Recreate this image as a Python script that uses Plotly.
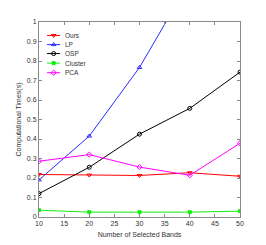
import plotly.graph_objects as go

bands = [10, 20, 30, 40, 50]
ours = [0.218, 0.215, 0.213, 0.227, 0.209]
lp = [0.19, 0.415, 0.767, 1.21, 1.65]
osp = [0.12, 0.255, 0.425, 0.557, 0.743]
cluster = [0.035, 0.025, 0.025, 0.025, 0.03]
pca = [0.286, 0.32, 0.256, 0.214, 0.378]

names = ["Ours", "LP", "OSP", "Cluster", "PCA"]
values = [ours, lp, osp, cluster, pca]
colors = ["#ff0000", "#2a2aff", "#000000", "#11ee11", "#ff00ff"]
symbols = ["triangle-down-open", "triangle-up-open", "circle-open", "square", "diamond-open"]
sizes = [4, 4, 4, 3, 4]

# legend layout (fractions of the plot area)
leg_rows = [0.931, 0.884, 0.838, 0.789, 0.740]
leg_x0, leg_xm, leg_x1, leg_xt = 0.040, 0.073, 0.105, 0.118

TXT = "#333333"
FONT = "Liberation Sans"

fig = go.Figure()
for name, vals, color, sym, sz in zip(names, values, colors, symbols, sizes):
    fig.add_trace(go.Scatter(
        x=bands, y=vals, name=name, mode="lines+markers",
        line=dict(color=color, width=1),
        marker=dict(symbol=sym, size=sz, color=color, line=dict(color=color, width=1)),
        showlegend=False,
    ))

# custom compact legend drawn on an overlay axis spanning the plot area
for name, color, sym, sz, ry in zip(names, colors, symbols, sizes, leg_rows):
    fig.add_trace(go.Scatter(
        x=[leg_x0, leg_x1], y=[ry, ry], mode="lines",
        line=dict(color=color, width=1), xaxis="x2", yaxis="y2",
        showlegend=False, hoverinfo="skip",
    ))
    fig.add_trace(go.Scatter(
        x=[leg_xm], y=[ry], mode="markers",
        marker=dict(symbol=sym, size=sz, color=color, line=dict(color=color, width=1)),
        xaxis="x2", yaxis="y2", showlegend=False, hoverinfo="skip",
    ))
    fig.add_annotation(x=leg_xt, y=ry, xref="x2", yref="y2", text=name,
                       showarrow=False, xanchor="left", yanchor="middle",
                       font=dict(size=6.5, color=TXT, family=FONT))

axis_common = dict(
    showgrid=False, zeroline=False, showline=True, linecolor="#8a8a8a", linewidth=1,
    mirror="ticks", ticks="inside", ticklen=3, tickcolor="#8a8a8a",
    tickfont=dict(size=7, color=TXT, family=FONT),
)
fig.update_layout(
    xaxis=dict(range=[10, 50], tickvals=[10, 15, 20, 25, 30, 35, 40, 45, 50],
               title=dict(text="Number of Selected Bands", font=dict(size=7, color=TXT, family=FONT), standoff=5),
               **axis_common),
    yaxis=dict(range=[0, 1], tickvals=[0, 0.1, 0.2, 0.3, 0.4, 0.5, 0.6, 0.7, 0.8, 0.9, 1],
               ticktext=["0", "0.1", "0.2", "0.3", "0.4", "0.5", "0.6", "0.7", "0.8", "0.9", "1"],
               title=dict(text="Computational Times(s)", font=dict(size=7, color=TXT, family=FONT), standoff=4),
               **axis_common),
    xaxis2=dict(range=[0, 1], overlaying="x", visible=False, fixedrange=True),
    yaxis2=dict(range=[0, 1], overlaying="y", visible=False, fixedrange=True),
    width=266, height=245,
    margin=dict(l=26, r=34, t=10, b=36),
    paper_bgcolor="white", plot_bgcolor="white",
    font=dict(family=FONT, size=7, color=TXT),
    showlegend=False,
)

fig.write_html("out.html")
